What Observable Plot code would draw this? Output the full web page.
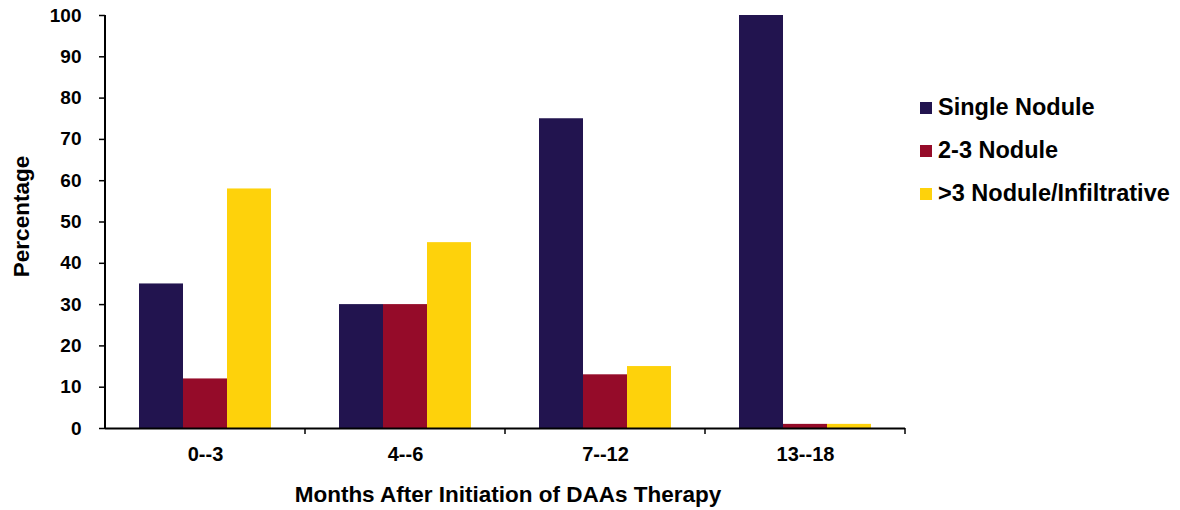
<!DOCTYPE html>
<html>
<head>
<meta charset="utf-8">
<script src="https://cdn.jsdelivr.net/npm/d3@7"></script>
<script src="https://cdn.jsdelivr.net/npm/@observablehq/plot@0.6"></script>
<style>
  body { margin: 0; background: #fff; }
  #chart { position: relative; width: 1180px; height: 510px; font-family: "Liberation Sans", Arial, sans-serif; }
  #chart svg { display: block; }
  .legend { position: absolute; left: 920px; top: 86px; font-weight: bold; font-size: 23.5px; color: #000; }
  .legend .item { display: flex; align-items: center; height: 43px; white-space: nowrap; }
  .legend .sw { width: 12px; height: 12px; margin-right: 6px; flex: none; }
</style>
</head>
<body>
<div id="chart"></div>
<script>
// Time windows after the start of DAA therapy
const periods = ["0--3", "4--6", "7--12", "13--18"];
// Tumour pattern groups and their fill colours
const series = ["Single Nodule", "2-3 Nodule", ">3 Nodule/Infiltrative"];
const colors = ["#22144f", "#950b29", "#fed20b"];
// Percentage of patients per window, one array per pattern
const singleNodule = [35, 30, 75, 100];
const twoThreeNodule = [12, 30, 13, 1];
const moreThanThree = [58, 45, 15, 1];
const yTicks = [0, 10, 20, 30, 40, 50, 60, 70, 80, 90, 100];
const xTitle = "Months After Initiation of DAAs Therapy";
const yTitle = "Percentage";

const seriesValues = [singleNodule, twoThreeNodule, moreThanThree];
const rows = periods.flatMap((p, i) =>
  series.map((s, j) => ({ period: p, group: s, value: seriesValues[j][i] }))
);

const font = "'Liberation Sans', Arial, sans-serif";

const chart = Plot.plot({
  width: 1180,
  height: 510,
  marginLeft: 103,
  marginRight: 274,
  marginTop: 15,
  marginBottom: 82,
  style: { fontFamily: font, background: "#fff", color: "#000", overflow: "visible" },
  fx: { domain: periods, padding: 0, axis: null, label: null },
  x: { domain: series, paddingInner: 0, paddingOuter: 0.75, axis: null, label: null },
  y: { domain: [0, 100], axis: null, label: null },
  color: { domain: series, range: colors },
  marks: [
    Plot.barY(rows, { fx: "period", x: "group", y: "value", fill: "group" }),
    Plot.ruleY([0], { stroke: "#000", strokeWidth: 2 }),
    Plot.axisY({ ticks: yTicks, tickSize: 6, tickPadding: 18, fontSize: 19, fontWeight: "bold", label: null, stroke: "#000", strokeWidth: 1.5 }),
    Plot.axisFx({ anchor: "bottom", tickSize: 0, tickPadding: 18, fontSize: 20, fontWeight: "bold", label: null })
  ]
});

// Domain line of the value axis and category boundary ticks, placed from the plot's own scales
const svg = d3.select(chart);
const fx = chart.scale("fx");
const y = chart.scale("y");
const y0 = y.apply(0), y100 = y.apply(100);
const left = fx.apply(periods[0]);
svg.append("line")
  .attr("x1", left).attr("x2", left)
  .attr("y1", y100).attr("y2", y0 + 1)
  .attr("stroke", "#000").attr("stroke-width", 2);
const bounds = periods.map(p => fx.apply(p)).concat([fx.apply(periods[periods.length - 1]) + fx.bandwidth]);
svg.selectAll("line.bound").data(bounds.slice(1)).join("line")
  .attr("class", "bound")
  .attr("x1", d => d).attr("x2", d => d)
  .attr("y1", y0).attr("y2", y0 + 6)
  .attr("stroke", "#000").attr("stroke-width", 1.5);

// Axis titles
svg.append("text")
  .attr("x", 508).attr("y", 501.5)
  .attr("text-anchor", "middle")
  .attr("font-family", font).attr("font-weight", "bold").attr("font-size", 22.5)
  .text(xTitle);
svg.append("text")
  .attr("transform", `translate(29,${(y0 + y100) / 2 - 5}) rotate(-90)`)
  .attr("text-anchor", "middle")
  .attr("font-family", font).attr("font-weight", "bold").attr("font-size", 22.5)
  .text(yTitle);

const container = document.getElementById("chart");
container.appendChild(chart);

// Legend
const legend = document.createElement("div");
legend.className = "legend";
series.forEach((s, i) => {
  const item = document.createElement("div");
  item.className = "item";
  const sw = document.createElement("span");
  sw.className = "sw";
  sw.style.background = colors[i];
  const label = document.createElement("span");
  label.textContent = s;
  item.appendChild(sw);
  item.appendChild(label);
  legend.appendChild(item);
});
container.appendChild(legend);
</script>
</body>
</html>
